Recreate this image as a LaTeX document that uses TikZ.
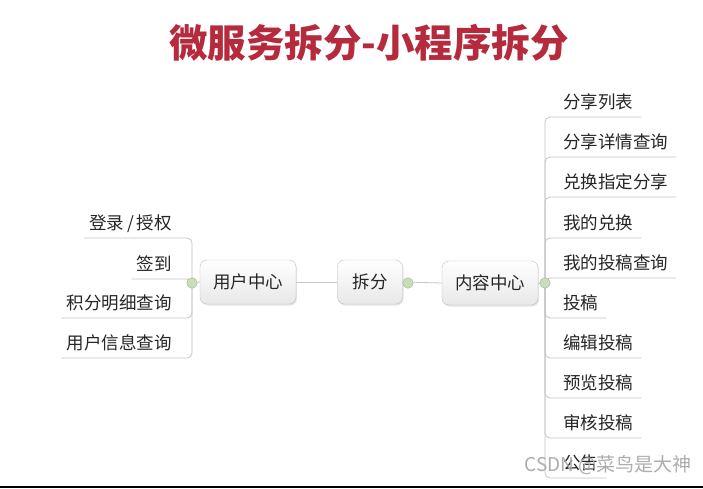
\documentclass[tikz,border=0pt]{standalone}
\usepackage{fontspec}
\newfontfamily\cjk{Noto Sans CJK SC}
\usetikzlibrary{shadows}
\definecolor{titlered}{HTML}{B52A3C}
\definecolor{branchgray}{HTML}{C6C6C6}
\definecolor{boxline}{HTML}{BEBEBE}
\definecolor{knobfill}{HTML}{CADDBB}
\definecolor{knobline}{HTML}{9FB68C}
\begin{document}
\begin{tikzpicture}[x=1pt,y=-1pt,
  topic/.style={draw=boxline,rounded corners=7pt,top color=white,bottom color=black!9,
    minimum height=44pt,inner xsep=13pt,font=\cjk\fontsize{17.5}{20}\selectfont,text=black!85,
    drop shadow={shadow xshift=1pt,shadow yshift=-1.5pt,opacity=0.2}},
  leaf/.style={inner ysep=8pt,text depth=0pt,font=\cjk\fontsize{17.5}{20}\selectfont,text=black!85},
  branch/.style={draw=branchgray,line width=0.8pt,rounded corners=5pt},
  link/.style={draw=branchgray,line width=0.8pt},
  knob/.style={circle,draw=knobline,fill=knobfill,inner sep=0pt,minimum size=10.5pt}]
  \fill[white] (0,0) rectangle (703,488);
  \useasboundingbox (0,0) rectangle (703,488);
  \node[font=\cjk\bfseries\fontsize{38.5}{40}\selectfont,text=titlered] (title) at (369,43) {微服务拆分-小程序拆分};
  % topics
  \node[topic,minimum width=65pt] (split) at (370,282) {拆分};
  \node[topic] (user) at (248,282) {用户中心};
  \node[topic] (content) at (490,283) {内容中心};
  \draw[link] (split.west) -- (user.east);
  \draw[link] (split.east) -- (content.west);
  \coordinate (uhub) at (192,283);
  \coordinate (chub) at (545,283);
  \draw[link] (user.west) -- (uhub);
  \draw[link] (content.east) -- (chub);
  % user center branches
  \foreach \name/\txt/\y in {l1/{登录\,/\,授权}/238, l2/签到/279, l3/积分明细查询/318, l4/用户信息查询/358} {
    \node[leaf,inner xsep=5pt,anchor=south east] (\name) at (177,\y) {\txt};
    \draw[branch] (uhub) |- (\name.south west);
  }
  % content center branches
  \foreach \name/\txt/\y in {r1/分享列表/117, r2/分享详情查询/157, r3/兑换指定分享/197,
      r4/我的兑换/238, r5/我的投稿查询/278, r6/投稿/318, r7/编辑投稿/358,
      r8/预览投稿/398, r9/审核投稿/438, r10/公告/478} {
    \node[leaf,inner xsep=8pt,anchor=south west] (\name) at (555,\y) {\txt};
    \draw[branch] (chub) |- (\name.south east);
  }
  \node[knob] (uknob) at (uhub) {};
  \node[knob] (sknob) at (408,283) {};
  \node[knob] (cknob) at (chub) {};
  % watermark
  \node[font=\cjk\fontsize{19}{20}\selectfont,text=black!32] (mark) at (608,465) {CSDN @菜鸟是大神};
  \fill[black] (0,485.5) rectangle (703,488);
\end{tikzpicture}
\end{document}
